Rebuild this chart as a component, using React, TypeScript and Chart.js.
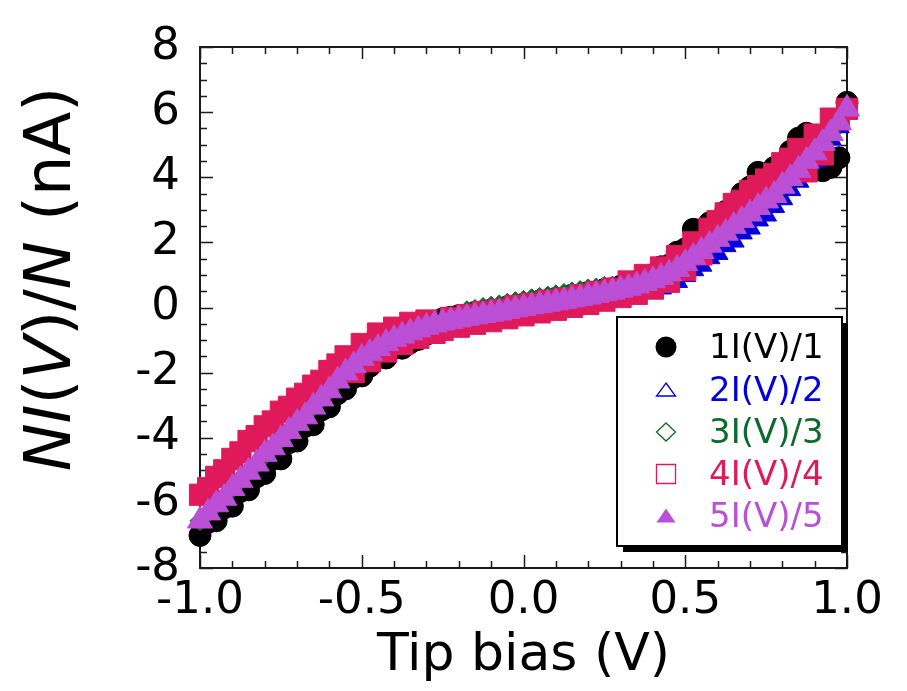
import React, { useEffect, useRef } from "react";
import { Chart, registerables } from "chart.js";

Chart.register(...registerables);

const FONT = "'DejaVu Sans', 'Liberation Sans', sans-serif";

// Tip bias (V)
const voltage = [
  -1.0, -0.975, -0.95, -0.925, -0.9, -0.875, -0.85, -0.825, -0.8, -0.775,
  -0.75, -0.725, -0.7, -0.675, -0.65, -0.625, -0.6, -0.575, -0.55, -0.525,
  -0.5, -0.475, -0.45, -0.425, -0.4, -0.375, -0.35, -0.325, -0.3, -0.275,
  -0.25, -0.225, -0.2, -0.175, -0.15, -0.125, -0.1, -0.075, -0.05, -0.025,
  0.0, 0.025, 0.05, 0.075, 0.1, 0.125, 0.15, 0.175, 0.2, 0.225,
  0.25, 0.275, 0.3, 0.325, 0.35, 0.375, 0.4, 0.425, 0.45, 0.475,
  0.5, 0.525, 0.55, 0.575, 0.6, 0.625, 0.65, 0.675, 0.7, 0.725,
  0.75, 0.775, 0.8, 0.825, 0.85, 0.875, 0.9, 0.925, 0.95, 0.975,
  1.0,
];

// 1I(V)/1 (nA)
const series1 = [
  -7.0, -6.6, -6.55, -6.15, -6.1, -5.65, -5.6, -5.2, -5.1, -4.65,
  -4.65, -4.15, -4.1, -3.65, -3.6, -3.15, -3.05, -2.65, -2.5, -2.15,
  -2.1, -1.8, -0.85, -1.55, -0.85, -1.25, -1.08, -0.98, -0.82, -0.55,
  -0.35, -0.3, -0.25, -0.24, -0.15, -0.16, -0.08, -0.08, 0.02, -0.01,
  0.1, 0.05, 0.2, 0.14, 0.28, 0.22, 0.38, 0.32, 0.46, 0.45,
  0.55, 0.58, 0.65, 0.72, 0.8, 0.95, 1.0, 1.25, 1.3, 1.7,
  1.8, 2.4, 2.2, 2.6, 2.5, 2.95, 3.0, 3.5, 3.7, 4.15,
  4.0, 4.3, 4.4, 4.8, 5.2, 5.35, 4.35, 4.2, 4.3, 4.6,
  6.3,
];

// 2I(V)/2 (nA)
const series2 = [
  -6.55, -6.3, -6.05, -5.8, -5.55, -5.3, -5.05, -4.8, -4.55, -4.3,
  -4.05, -3.8, -3.55, -3.3, -3.05, -2.8, -2.55, -2.25, -2.0, -1.78,
  -1.57, -1.4, -1.25, -1.1, -0.97, -0.87, -0.77, -0.68, -0.6, -0.53,
  -0.47, -0.42, -0.37, -0.32, -0.28, -0.24, -0.2, -0.16, -0.11, -0.06,
  -0.02, 0.03, 0.07, 0.11, 0.15, 0.19, 0.24, 0.28, 0.33, 0.38,
  0.43, 0.48, 0.54, 0.6, 0.67, 0.75, 0.5, 0.6, 0.7, 0.8,
  0.98, 1.16, 1.3, 1.53, 1.66, 1.9, 2.04, 2.29, 2.44, 2.69,
  2.84, 3.1, 3.34, 3.62, 3.88, 4.2, 4.48, 4.82, 5.17, 5.55,
  6.0,
];

// 3I(V)/3 (nA)
const series3 = [
  -6.55, -6.3, -6.05, -5.8, -5.55, -5.3, -5.05, -4.8, -4.55, -4.3,
  -4.05, -3.8, -3.55, -3.3, -3.05, -2.8, -2.55, -2.25, -2.0, -1.78,
  -1.57, -1.4, -1.25, -1.1, -0.97, -0.87, -0.77, -0.68, -0.6, -0.53,
  -0.47, -0.42, -0.37, -0.1, -0.06, 0.0, 0.04, 0.08, 0.13, 0.18,
  0.22, 0.27, 0.31, 0.35, 0.39, 0.43, 0.48, 0.52, 0.57, 0.6,
  0.65, 0.66, 0.68, 0.7, 0.67, 0.75, 0.83, 0.93, 1.04, 1.18,
  1.36, 1.55, 1.73, 1.92, 2.1, 2.29, 2.48, 2.68, 2.88, 3.08,
  3.28, 3.5, 3.73, 3.97, 4.22, 4.48, 4.76, 5.05, 5.35, 5.68,
  6.1,
];

// 4I(V)/4 (nA)
const series4 = [
  -5.75, -5.55, -5.2, -5.0, -4.65, -4.45, -4.1, -3.95, -3.65, -3.5,
  -3.2, -3.05, -2.8, -2.65, -2.4, -2.25, -1.95, -1.75, -1.5, -1.98,
  -1.12, -1.65, -0.8, -1.35, -0.62, -1.12, -0.47, -0.93, -0.4, -0.78,
  -0.69, -0.32, -0.59, -0.24, -0.5, -0.14, -0.42, -0.08, -0.33, 0.04,
  -0.24, 0.11, -0.15, 0.21, -0.07, 0.27, 0.02, 0.38, 0.11, 0.48,
  0.21, 0.58, 0.32, 0.8, 0.42, 1.0, 0.58, 1.23, 0.79, 1.58,
  1.16, 2.0, 1.63, 2.42, 2.65, 2.89, 3.18, 3.28, 3.58, 3.73,
  3.93, 4.1, 4.43, 4.57, 4.87, 4.18, 5.31, 4.7, 5.8, 5.78,
  6.1,
];

// 5I(V)/5 (nA)
const series5 = [
  -6.55, -6.3, -6.05, -5.85, -5.55, -5.3, -5.05, -4.8, -4.5, -4.3,
  -4.05, -3.8, -3.55, -3.35, -3.05, -2.8, -2.55, -2.25, -2.0, -1.78,
  -1.55, -1.4, -1.25, -1.1, -0.97, -0.87, -0.77, -0.68, -0.6, -0.53,
  -0.47, -0.42, -0.37, -0.32, -0.28, -0.24, -0.2, -0.16, -0.11, -0.06,
  -0.02, 0.03, 0.07, 0.11, 0.15, 0.19, 0.24, 0.28, 0.33, 0.38,
  0.43, 0.48, 0.54, 0.6, 0.67, 0.75, 0.83, 0.93, 1.04, 1.18,
  1.36, 1.55, 1.73, 1.92, 2.1, 2.29, 2.5, 2.68, 2.88, 3.08,
  3.28, 3.45, 3.73, 3.97, 4.22, 4.5, 4.76, 5.05, 5.35, 5.68,
  6.1,
];

const seriesLabels = ["1I(V)/1", "2I(V)/2", "3I(V)/3", "4I(V)/4", "5I(V)/5"];

const xMajorTicks = [-1.0, -0.5, 0.0, 0.5, 1.0];
const xAllTicks = [
  -1.0, -0.9, -0.8, -0.7, -0.6, -0.5, -0.4, -0.3, -0.2, -0.1, 0.0,
  0.1, 0.2, 0.3, 0.4, 0.5, 0.6, 0.7, 0.8, 0.9, 1.0,
];
const yMajorTicks = [-8, -6, -4, -2, 0, 2, 4, 6, 8];
const yAllTicks = [
  -8, -7.5, -7, -6.5, -6, -5.5, -5, -4.5, -4, -3.5, -3, -2.5, -2, -1.5, -1, -0.5,
  0, 0.5, 1, 1.5, 2, 2.5, 3, 3.5, 4, 4.5, 5, 5.5, 6, 6.5, 7, 7.5, 8,
];

const COLORS = {
  black: "#000000",
  blue: "#0000DD",
  green: "#0B6B2B",
  red: "#E01A5A",
  purple: "#BB4FD6",
};

function pts(ys: number[]) {
  return voltage.map((v, i) => ({ x: v, y: ys[i] }));
}

const axesPlugin = {
  id: "boxAxes",
  beforeDatasetsDraw(chart: any) {
    const { ctx, chartArea: a, scales } = chart;
    const xs = scales.x;
    const ys = scales.y;
    ctx.save();
    ctx.strokeStyle = "#1a1a1a";
    ctx.lineWidth = 1.5;
    ctx.beginPath();
    for (const v of xAllTicks) {
      const px = Math.round(xs.getPixelForValue(v)) + 0.5;
      const major = xMajorTicks.some((m) => Math.abs(m - v) < 1e-9);
      const lb = major ? 13 : 7;
      const lt = major ? 12 : 7;
      ctx.moveTo(px, a.bottom);
      ctx.lineTo(px, a.bottom - lb);
      ctx.moveTo(px, a.top);
      ctx.lineTo(px, a.top + lt);
    }
    for (const v of yAllTicks) {
      const py = Math.round(ys.getPixelForValue(v)) + 0.5;
      const major = yMajorTicks.some((m) => Math.abs(m - v) < 1e-9);
      const ll = major ? 13 : 7;
      const lr = major ? 12 : 6;
      ctx.moveTo(a.left, py);
      ctx.lineTo(a.left + ll, py);
      ctx.moveTo(a.right, py);
      ctx.lineTo(a.right - lr, py);
    }
    ctx.stroke();
    ctx.lineWidth = 2;
    ctx.strokeRect(a.left, a.top, a.right - a.left, a.bottom - a.top);
    ctx.restore();
  },
};

function legendMarker(ctx: CanvasRenderingContext2D, k: number, x: number, y: number) {
  ctx.beginPath();
  ctx.lineWidth = 1.3;
  if (k === 0) {
    ctx.fillStyle = COLORS.black;
    ctx.arc(x, y, 10.5, 0, Math.PI * 2);
    ctx.fill();
  } else if (k === 1) {
    ctx.strokeStyle = COLORS.blue;
    ctx.moveTo(x, y - 7);
    ctx.lineTo(x + 9.5, y + 6);
    ctx.lineTo(x - 9.5, y + 6);
    ctx.closePath();
    ctx.stroke();
  } else if (k === 2) {
    ctx.strokeStyle = COLORS.green;
    ctx.moveTo(x, y - 9);
    ctx.lineTo(x + 9.5, y);
    ctx.lineTo(x, y + 9);
    ctx.lineTo(x - 9.5, y);
    ctx.closePath();
    ctx.stroke();
  } else if (k === 3) {
    ctx.strokeStyle = COLORS.red;
    ctx.rect(x - 9.5, y - 9.5, 19, 19);
    ctx.stroke();
  } else {
    ctx.fillStyle = COLORS.purple;
    ctx.moveTo(x, y - 7.5);
    ctx.lineTo(x + 9.5, y + 6.5);
    ctx.lineTo(x - 9.5, y + 6.5);
    ctx.closePath();
    ctx.fill();
  }
}

const legendPlugin = {
  id: "boxLegend",
  afterDatasetsDraw(chart: any) {
    const { ctx } = chart;
    const bx = 617, by = 317, bw = 225, bh = 229;
    ctx.save();
    ctx.fillStyle = "#000";
    ctx.fillRect(bx + 6, by + 6, bw, bh);
    ctx.fillStyle = "#fff";
    ctx.fillRect(bx, by, bw, bh);
    ctx.strokeStyle = "#000";
    ctx.lineWidth = 2;
    ctx.strokeRect(bx, by, bw, bh);
    const textColors = [COLORS.black, COLORS.blue, COLORS.green, COLORS.red, COLORS.purple];
    const rows = [347, 390, 432, 474, 516];
    ctx.font = `34px ${FONT}`;
    ctx.textBaseline = "middle";
    ctx.textAlign = "left";
    seriesLabels.forEach((lab, k) => {
      legendMarker(ctx, k, 666, rows[k]);
      ctx.fillStyle = textColors[k];
      ctx.fillText(lab, 709, rows[k] + 2);
    });
    ctx.restore();
  },
};

const titlePlugin = {
  id: "axisTitles",
  afterDraw(chart: any) {
    const { ctx, chartArea: a } = chart;
    ctx.save();
    ctx.fillStyle = "#000";
    ctx.textBaseline = "alphabetic";
    ctx.font = `52px ${FONT}`;
    ctx.textAlign = "center";
    ctx.fillText("Tip bias (V)", (a.left + a.right) / 2, 670);
    const segs: [string, boolean][] = [
      ["N", true],
      ["I", true],
      ["(", false],
      ["V", true],
      [")", false],
      ["/", false],
      ["N", true],
      [" (nA)", false],
    ];
    const fontFor = (it: boolean) => `${it ? "italic " : ""}64px ${FONT}`;
    let total = 0;
    for (const [t, it] of segs) {
      ctx.font = fontFor(it);
      total += ctx.measureText(t).width;
    }
    ctx.translate(70, 279);
    ctx.rotate(-Math.PI / 2);
    ctx.textAlign = "left";
    let cx = -total / 2;
    for (const [t, it] of segs) {
      ctx.font = fontFor(it);
      ctx.fillText(t, cx, 0);
      cx += ctx.measureText(t).width;
    }
    ctx.restore();
  },
};

export default function App() {
  const ref = useRef<HTMLCanvasElement>(null);

  useEffect(() => {
    const canvas = ref.current;
    if (!canvas) return;
    Chart.defaults.font.family = FONT;
    const mk = (
      label: string,
      ys: number[],
      color: string,
      style: string,
      radius: number,
      order: number
    ) => ({
      label,
      data: pts(ys),
      showLine: false,
      pointStyle: style,
      pointRadius: radius,
      pointHoverRadius: radius,
      pointBackgroundColor: color,
      pointBorderColor: color,
      pointBorderWidth: 1,
      backgroundColor: color,
      borderColor: color,
      order,
      clip: false,
    });
    const chart = new Chart(canvas, {
      type: "scatter",
      data: {
        datasets: [
          mk(seriesLabels[0], series1, COLORS.black, "circle", 11, 5),
          mk(seriesLabels[1], series2, COLORS.blue, "triangle", 12, 4),
          mk(seriesLabels[2], series3, COLORS.green, "rectRot", 10, 3),
          mk(seriesLabels[3], series4, COLORS.red, "rect", 15, 2),
          mk(seriesLabels[4], series5, COLORS.purple, "triangle", 14.5, 1),
        ] as any,
      },
      options: {
        responsive: false,
        animation: false,
        events: [],
        layout: { padding: { top: 39, right: 60, left: 0, bottom: 0 } },
        plugins: {
          legend: { display: false },
          tooltip: { enabled: false },
        },
        scales: {
          x: {
            type: "linear",
            min: -1,
            max: 1,
            afterFit: (s: any) => {
              s.height = 123;
            },
            afterBuildTicks: (s: any) => {
              s.ticks = xMajorTicks.map((v) => ({ value: v }));
            },
            grid: { display: false, drawTicks: false },
            border: { display: false },
            ticks: {
              padding: 6,
              color: "#000",
              font: { size: 45, family: FONT },
              maxRotation: 0,
              autoSkip: false,
              callback: (v: any) => Number(v).toFixed(1),
            },
          },
          y: {
            type: "linear",
            min: -8,
            max: 8,
            afterFit: (s: any) => {
              s.width = 200;
            },
            afterBuildTicks: (s: any) => {
              s.ticks = yMajorTicks.map((v) => ({ value: v }));
            },
            grid: { display: false, drawTicks: false },
            border: { display: false },
            ticks: {
              padding: 20,
              color: "#000",
              font: { size: 45, family: FONT },
              autoSkip: false,
              callback: (v: any) => String(v),
            },
          },
        },
      } as any,
      plugins: [axesPlugin, legendPlugin, titlePlugin],
    });
    return () => chart.destroy();
  }, []);

  return (
    <div style={{ position: "absolute", left: 0, top: 0, width: 907, height: 691 }}>
      <canvas ref={ref} width={907} height={691} style={{ display: "block", width: 907, height: 691 }} />
    </div>
  );
}
